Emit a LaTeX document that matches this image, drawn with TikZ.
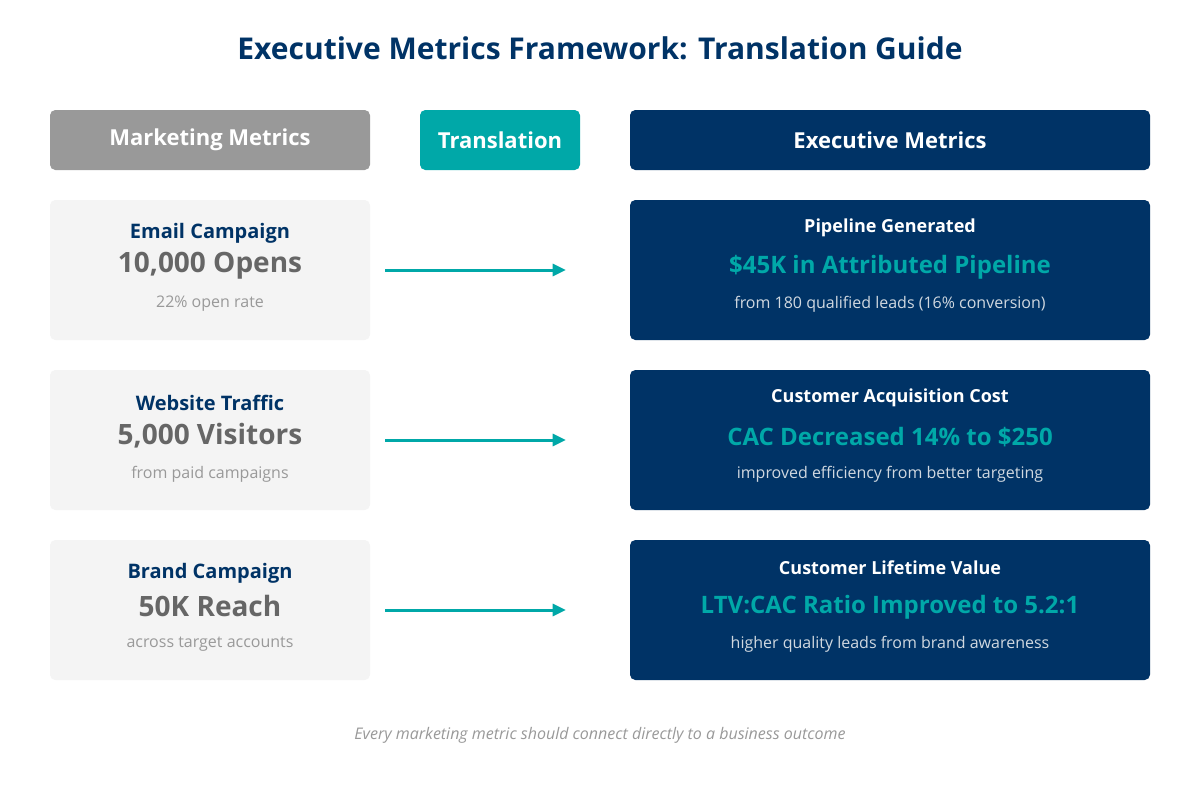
\documentclass[tikz,border=0pt]{standalone}
\usepackage{fontspec}
\setmainfont{Open Sans}
\usetikzlibrary{arrows.meta}
\definecolor{navy}{HTML}{003366}
\definecolor{teal2}{HTML}{00A8A8}
\definecolor{hgray}{HTML}{999999}
\definecolor{lbox}{HTML}{F4F4F4}
\definecolor{dtext}{HTML}{666666}
\definecolor{stext}{HTML}{999999}
\definecolor{ltext}{HTML}{D0D8E0}
\begin{document}
\begin{tikzpicture}[x=0.75pt,y=-0.75pt,
  box/.style={rounded corners=4pt,inner sep=0pt},
  hdr/.style={font=\fontsize{16.5}{20}\selectfont\bfseries,text=white},
  ltitle/.style={font=\fontsize{15}{18}\selectfont\bfseries,text=navy},
  lbig/.style={font=\fontsize{21}{25}\selectfont\bfseries,text=dtext},
  lsmall/.style={font=\fontsize{12}{14}\selectfont,text=stext},
  rtitle/.style={font=\fontsize{13.5}{16}\selectfont\bfseries,text=white},
  rbig/.style={font=\fontsize{18}{22}\selectfont\bfseries,text=teal2},
  rsmall/.style={font=\fontsize{12}{14}\selectfont,text=ltext},
  arr/.style={draw=teal2,line width=2.25pt,-{Triangle[length=10pt,width=9pt]}}]
\useasboundingbox (0,0) rectangle (1200,800);
\fill[white] (0,0) rectangle (1200,800);
\node[font=\fontsize{22.5}{27}\selectfont\bfseries,text=navy] (title) at (600,48) {Executive Metrics Framework: Translation Guide};
\fill[box,hgray] (50,110) rectangle (370,170);
\node[hdr] (h1) at (210,140) {Marketing Metrics};
\fill[box,teal2] (420,110) rectangle (580,170);
\node[hdr] (h2) at (500,140) {Translation};
\fill[box,navy] (630,110) rectangle (1150,170);
\node[hdr] (h3) at (890,140) {Executive Metrics};
\foreach \y/\a/\b/\c/\d/\e/\f [count=\i] in {
 200/Email Campaign/{10,000 Opens}/22\% open rate/Pipeline Generated/\$45K in Attributed Pipeline/from 180 qualified leads (16\% conversion),
 370/Website Traffic/{5,000 Visitors}/from paid campaigns/Customer Acquisition Cost/CAC Decreased 14\% to \$250/improved efficiency from better targeting,
 540/Brand Campaign/50K Reach/across target accounts/Customer Lifetime Value/LTV:CAC Ratio Improved to 5.2:1/higher quality leads from brand awareness}{
  \fill[box,lbox] (50,\y) rectangle (370,\y+140);
  \fill[box,navy] (630,\y) rectangle (1150,\y+140);
  \node[ltitle] (lt\i) at (210,\y+33) {\a};
  \node[lbig] (lb\i) at (210,\y+66) {\b};
  \node[lsmall] (ls\i) at (210,\y+104) {\c};
  \node[rtitle] (rt\i) at (890,\y+28) {\d};
  \node[rbig] (rb\i) at (890,\y+67) {\e};
  \node[rsmall] (rs\i) at (890,\y+104) {\f};
  \coordinate (as\i) at (385,\y+70);
  \coordinate (ae\i) at (566,\y+70);
  \draw[arr] (as\i) -- (ae\i);
}
\node[font=\fontsize{12}{14}\selectfont\itshape,text=stext] (foot) at (600,735) {Every marketing metric should connect directly to a business outcome};
\end{tikzpicture}
\end{document}
